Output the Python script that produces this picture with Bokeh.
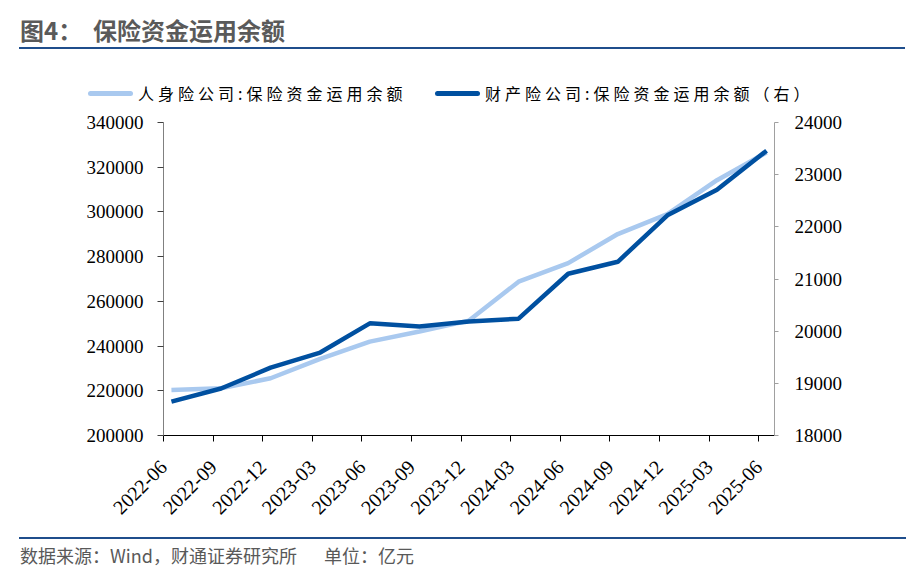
import numpy as np
from bokeh.plotting import figure
from bokeh.models import (Range1d, LinearAxis, FixedTicker, Div, BasicTickFormatter)
from bokeh.layouts import column
from bokeh.embed import file_html
from bokeh.resources import INLINE

# ---- data ----
dates = ["2022-06", "2022-09", "2022-12", "2023-03", "2023-06", "2023-09", "2023-12",
         "2024-03", "2024-06", "2024-09", "2024-12", "2025-03", "2025-06"]
life = [220400, 221100, 225600, 234300, 242000, 246500, 251400,
        268800, 277100, 290100, 299000, 314200, 326600]
prop = [18650, 18900, 19300, 19590, 20150, 20090, 20185,
        20240, 21100, 21330, 22220, 22710, 23460]
left_ticks = [200000, 220000, 240000, 260000, 280000, 300000, 320000, 340000]
right_ticks = [18000, 19000, 20000, 21000, 22000, 23000, 24000]

label_life = "人身险公司:保险资金运用余额"
label_prop = "财产险公司:保险资金运用余额（右）"
title_text = "图4：&nbsp;&nbsp;保险资金运用余额"
source_text = "数据来源：Wind，财通证券研究所"
unit_text = "单位：亿元"

LIGHT = "#A9C9EF"
DARK = "#0050A0"
RULE = "#1F4E8C"
NUM_FONT = "Liberation Serif"
CJK = "'Noto Sans CJK SC', sans-serif"

W = 910
FH = 418
idx = np.arange(len(dates))
xpos = idx + 0.16

p = figure(width=W, height=FH, output_backend="svg", toolbar_location=None,
           x_range=Range1d(0, len(dates) - 1 + 0.32),
           y_range=Range1d(left_ticks[0], left_ticks[-1]),
           min_border_left=163, min_border_right=136, min_border_top=10,
           min_border_bottom=95, margin=0)
p.extra_y_ranges = {"r": Range1d(right_ticks[0], right_ticks[-1])}
p.outline_line_color = None
p.xgrid.visible = False
p.ygrid.visible = False

r1 = p.line(xpos, life, line_color=LIGHT, line_width=4.5)
r2 = p.line(xpos, prop, line_color=DARK, line_width=4.5, y_range_name="r")

# x axis
xa = p.xaxis[0]
xa.ticker = FixedTicker(ticks=list(idx))
xa.major_label_overrides = {int(i): d for i, d in zip(idx, dates)}
xa.major_label_orientation = np.pi / 4
xa.axis_line_color = "#000000"
xa.major_tick_line_color = "#000000"
xa.major_tick_out = 6
xa.major_tick_in = 0
xa.minor_tick_line_color = None
xa.major_label_text_font = NUM_FONT
xa.major_label_text_font_size = "20px"
xa.major_label_text_color = "#000000"
xa.major_label_standoff = 22

# left axis
ya = p.yaxis[0]
ya.ticker = FixedTicker(ticks=left_ticks)
ya.formatter = BasicTickFormatter(use_scientific=False)
ya.axis_line_color = "#808080"
ya.major_tick_line_color = "#404040"
ya.major_tick_out = 6
ya.major_tick_in = 0
ya.minor_tick_line_color = None
ya.major_label_text_font = NUM_FONT
ya.major_label_text_font_size = "19px"
ya.major_label_text_color = "#000000"
ya.major_label_standoff = 14

# right axis
ra = LinearAxis(y_range_name="r", ticker=FixedTicker(ticks=right_ticks),
                formatter=BasicTickFormatter(use_scientific=False))
ra.axis_line_color = "#A0A0A0"
ra.major_tick_line_color = "#A0A0A0"
ra.major_tick_out = 4
ra.major_tick_in = 0
ra.minor_tick_line_color = None
ra.major_label_text_font = NUM_FONT
ra.major_label_text_font_size = "19px"
ra.major_label_text_color = "#000000"
ra.major_label_standoff = 16
p.add_layout(ra, "right")

title = Div(text=(f'<div style="box-sizing:content-box;font-family:{CJK};font-size:24px;'
                  f'font-weight:bold;color:#5a5a5a;line-height:30px;padding:15px 0 0 1px;'
                  f'height:32px;width:885px;border-bottom:2px solid {RULE};margin-left:19px;'
                  f'white-space:nowrap;">{title_text}</div>'),
            width=W, height=52, margin=0)

def leg_item(left, color, label):
    return (f'<div style="position:absolute;left:{left}px;top:0;display:flex;'
            f'align-items:center;height:20px;white-space:nowrap;">'
            f'<span style="display:inline-block;width:45px;height:5px;border-radius:3px;'
            f'background:{color};"></span>'
            f'<span style="margin-left:5px;font-family:{CJK};font-size:16px;'
            f'letter-spacing:4px;color:#000;line-height:20px;">{label}</span></div>')

legend_div = Div(text=(f'<div style="position:relative;width:910px;height:20px;margin-top:31px;">'
                       + leg_item(88, LIGHT, label_life) + leg_item(435, DARK, label_prop)
                       + '</div>'),
                 width=W, height=60, margin=0)

footer = Div(text=(f'<div style="box-sizing:content-box;width:886px;margin-left:19px;margin-top:7px;'
                   f'border-top:2px solid {RULE};padding:5px 0 0 1px;font-family:{CJK};'
                   f'font-size:18px;color:#595959;line-height:22px;white-space:nowrap;">'
                   f'{source_text}<span style="margin-left:27px;">{unit_text}</span></div>'),
             width=W, height=44, margin=0)

layout = column(title, legend_div, p, footer, spacing=0)
open("out.html", "w").write(file_html(layout, INLINE))
